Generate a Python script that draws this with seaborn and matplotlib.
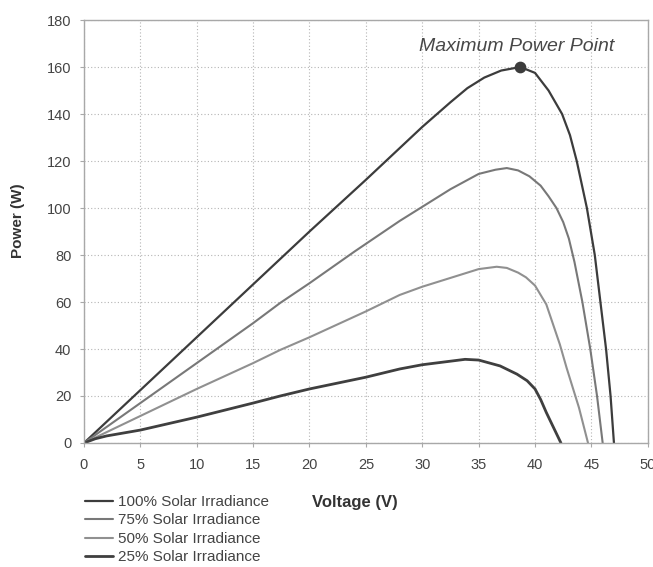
import pandas as pd
import matplotlib
matplotlib.use("Agg")
import matplotlib.pyplot as plt
import seaborn as sns

# Curves (voltage V, power W)
v_100 = [0, 2, 5, 10, 15, 18, 20, 25, 28, 30, 32.5, 34, 35.5, 37, 38.7, 40, 41.2, 42.4, 43.1, 43.7, 44.6, 45.3, 45.8, 46.3, 46.7, 47.0]
p_100 = [0, 9, 22.5, 45, 67.5, 81, 90, 112, 125.5, 134.5, 145, 151, 155.5, 158.5, 160, 157.5, 150, 140, 131, 120, 100, 80, 60, 40, 20, 0]

v_75 = [0, 5, 10, 15, 17.4, 20, 24, 28, 30, 32.5, 35, 36.5, 37.5, 38.5, 39.5, 40.5, 41.2, 41.9, 42.5, 43.0, 43.5, 44.2, 44.9, 45.5, 46.0]
p_75 = [0, 17, 34, 51, 59.6, 68, 81.5, 94.5, 100.5, 108, 114.5, 116.3, 117, 116, 113.5, 109.5, 105, 100, 94, 87, 77, 60, 40, 20, 0]

v_50 = [0, 5, 10, 15, 17.4, 20, 25, 28, 30, 33, 35, 36.6, 37.5, 38.5, 39.2, 40, 41, 41.6, 42.2, 42.8, 43.9, 44.7]
p_50 = [0, 11.5, 23, 34, 39.6, 45, 56, 63, 66.5, 71, 74, 75, 74.5, 72.5, 70.5, 67, 59, 50.5, 42, 32, 15, 0]

v_25 = [0, 1, 2, 5, 10, 15, 17.4, 20, 25, 28, 30, 33.8, 35, 36.9, 38.4, 39.3, 40, 40.5, 41, 41.7, 42.3]
p_25 = [0, 1.8, 3, 5.5, 11, 17, 20, 23, 28, 31.5, 33.3, 35.6, 35.3, 32.8, 29.3, 26.5, 23, 18.5, 13, 6, 0]

labels = ["100% Solar Irradiance", "75% Solar Irradiance",
          "50% Solar Irradiance", "25% Solar Irradiance"]
colors = ["#3c3c3c", "#787878", "#909090", "#3f3f3f"]
widths = [1.6, 1.5, 1.5, 2.0]

mpp_v = [38.7]
mpp_p = [160]

frames = []
for lab, v, p in zip(labels, [v_100, v_75, v_50, v_25], [p_100, p_75, p_50, p_25]):
    frames.append(pd.DataFrame({"Voltage": v, "Power": p, "series": lab}))
df = pd.concat(frames, ignore_index=True)

sns.set_style("white")
plt.rcParams['font.family'] = ['Liberation Sans', 'DejaVu Sans']

fig = plt.figure(figsize=(6.53, 5.67), dpi=100)
ax = fig.add_axes([0.1286, 0.2187, 0.8634, 0.7460])

for lab, col, lw in zip(labels, colors, widths):
    sub = df[df["series"] == lab]
    sns.lineplot(data=sub, x="Voltage", y="Power", color=col, linewidth=lw,
                 sort=False, estimator=None, ax=ax, label=lab)

ax.scatter(mpp_v, mpp_p, s=55, color="#3c3c3c", zorder=5)
ax.text(38.4, 168.8, "Maximum Power Point", style="italic", fontsize=14,
        color="#484848", ha="center", va="center")

ax.set_xlim(0, 50)
ax.set_ylim(0, 180)
ax.set_xticks(range(0, 51, 5))
ax.set_yticks(range(0, 181, 20))
ax.grid(True, color="#b5b5b5", linestyle=(0, (1, 2)), linewidth=0.8)
for s in ax.spines.values():
    s.set_color("#a8a8a8")
    s.set_linewidth(1.0)
ax.tick_params(axis="both", direction="out", length=3, color="#a8a8a8",
               labelsize=10.5, labelcolor="#444444", left=True, bottom=True)
ax.tick_params(axis="x", pad=8)
ax.tick_params(axis="y", pad=6)

ax.set_xlabel("")
ax.set_ylabel("")
fig.text(0.028, 0.610, "Power (W)", fontsize=11, fontweight="bold",
         color="#333333", ha="center", va="center", rotation=90)
fig.text(0.544, 0.1146, "Voltage (V)", fontsize=12, fontweight="bold",
         color="#333333", ha="center", va="center")

handles, labs = ax.get_legend_handles_labels()
ax.get_legend().remove()
fig.legend(handles, labs, loc="center left", bbox_to_anchor=(0.121, 0.0658),
           frameon=False, fontsize=11, handlelength=1.8, handletextpad=0.37,
           labelspacing=0.29, labelcolor="#444444", borderaxespad=0)

fig.savefig("out.png", dpi=100)
